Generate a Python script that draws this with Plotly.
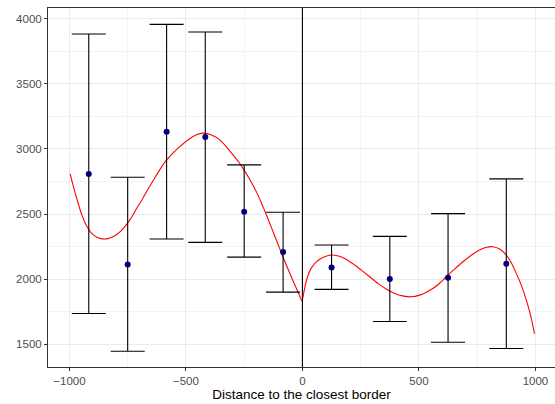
import plotly.graph_objects as go

# binned means with confidence intervals
bin_x = [-917, -750, -583, -417, -250, -83, 125, 375, 625, 875]
bin_mean = [2808, 2113, 3131, 3092, 2518, 2208, 2090, 2000, 2010, 2118]
ci_upper = [3882, 2782, 3956, 3898, 2877, 2513, 2262, 2328, 2503, 2770]
ci_lower = [1736, 1446, 2308, 2282, 2169, 1900, 1921, 1675, 1515, 1467]

# fitted curve, left of the border
fit_left_x = [-997, -986, -975, -964, -954, -943, -932, -921, -911, -897, -882, -866,
              -849, -834, -818, -800, -782, -764, -746, -728, -711, -689, -658, -626,
              -605, -583, -555, -526, -490, -455, -426, -390, -355, -326, -298, -276,
              -255, -226, -197, -176, -154, -133, -112, -97, -83, -62, -40, -21, -2]
fit_left_y = [2808, 2732, 2659, 2592, 2531, 2476, 2428, 2392, 2364, 2340, 2321, 2311,
              2308, 2311, 2321, 2339, 2364, 2399, 2441, 2490, 2544, 2608, 2705, 2800,
              2860, 2915, 2970, 3018, 3070, 3108, 3121, 3106, 3069, 3015, 2954, 2905,
              2850, 2765, 2668, 2585, 2490, 2395, 2300, 2232, 2168, 2077, 1985, 1908, 1830]
# fitted curve, right of the border
fit_right_x = [1, 12, 24, 40, 60, 90, 124, 150, 181, 215, 253, 290, 324, 360, 396, 430,
               467, 503, 530, 560, 590, 617, 653, 689, 725, 760, 790, 817, 848, 875,
               898, 918, 940, 961, 980, 996]
fit_right_y = [1850, 1950, 2030, 2090, 2133, 2168, 2185, 2180, 2159, 2120, 2069, 2016,
               1967, 1924, 1890, 1871, 1864, 1877, 1898, 1928, 1970, 2018, 2077, 2133,
               2183, 2223, 2245, 2249, 2230, 2185, 2120, 2044, 1950, 1838, 1715, 1582]

x_ticks = [-1000, -500, 0, 500, 1000]
y_ticks = [1500, 2000, 2500, 3000, 3500, 4000]
x_title = "Distance to the closest border"

err_plus = [u - m for u, m in zip(ci_upper, bin_mean)]
err_minus = [m - l for m, l in zip(bin_mean, ci_lower)]

fig = go.Figure()
fig.add_trace(go.Scatter(x=fit_left_x, y=fit_left_y, mode="lines",
                         line=dict(color="red", width=1.1, shape="spline", smoothing=0.5),
                         hoverinfo="skip"))
fig.add_trace(go.Scatter(x=fit_right_x, y=fit_right_y, mode="lines",
                         line=dict(color="red", width=1.1, shape="spline", smoothing=0.5),
                         hoverinfo="skip"))
fig.add_trace(go.Scatter(
    x=bin_x, y=bin_mean, mode="markers",
    marker=dict(color="#000080", size=6),
    error_y=dict(type="data", symmetric=False, array=err_plus, arrayminus=err_minus,
                 color="black", thickness=1.1, width=17),
))

fig.add_vline(x=0, line=dict(color="black", width=1.1), layer="above")

fig.update_layout(
    width=555, height=404,
    margin=dict(l=48, r=0, t=8, b=37),
    paper_bgcolor="white", plot_bgcolor="white",
    showlegend=False,
    font=dict(family="Liberation Sans, Arial, sans-serif"),
)
fig.update_xaxes(
    range=[-1092, 1084], tickvals=x_ticks, ticks="outside", ticklen=3,
    tickcolor="#333333", tickfont=dict(size=11.5, color="#4D4D4D"),
    showline=True, linecolor="#333333", linewidth=1, mirror=True,
    showgrid=True, gridcolor="#EBEBEB", gridwidth=1, zeroline=False,
    minor=dict(dtick=250, tick0=-1000, showgrid=True, gridcolor="#F3F3F3", gridwidth=0.6),
    title=dict(text=x_title, font=dict(size=13.5, color="black"), standoff=2),
)
fig.update_yaxes(
    range=[1325, 4082], tickvals=y_ticks, ticks="outside", ticklen=3,
    tickcolor="#333333", tickfont=dict(size=11.5, color="#4D4D4D"),
    showline=True, linecolor="#333333", linewidth=1, mirror=False,
    showgrid=True, gridcolor="#EBEBEB", gridwidth=1, zeroline=False,
    minor=dict(dtick=250, tick0=1500, showgrid=True, gridcolor="#F3F3F3", gridwidth=0.6),
)

fig.write_html("out.html")
